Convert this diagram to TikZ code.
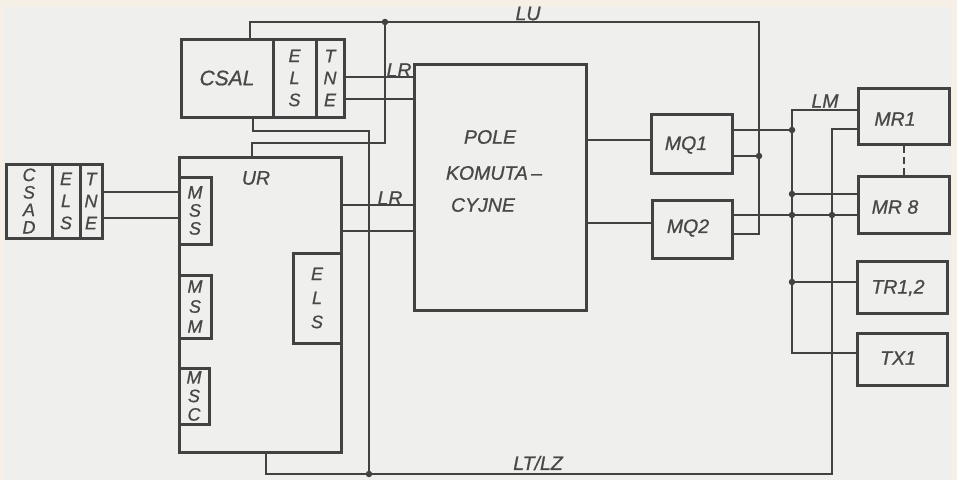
\documentclass[tikz,border=0pt]{standalone}
\usepackage{fontspec}
\setmainfont{Liberation Sans}[ItalicFeatures={FakeBold=0.8}]
\definecolor{bg}{RGB}{239,239,237}
\definecolor{edgec}{RGB}{246,239,229}
\definecolor{ink}{RGB}{66,66,66}
\definecolor{txt}{RGB}{72,72,72}
\newcommand\lblfont{\fontsize{19.5}{22}\selectfont\itshape}
\tikzset{
  sz/.style 2 args={minimum width=#1, minimum height=#2},
  box/.style={draw=ink, line width=3pt, inner sep=0pt, text=txt, font=\lblfont},
  stk/.style={align=center, font=\fontsize{18}{#1}\selectfont\itshape},
  wire/.style={draw=ink, line width=2pt},
  junc/.style={circle, fill=ink, inner sep=0pt, minimum size=6.5pt},
  lab/.style={text=txt, font=\lblfont, inner sep=0pt}
}
\begin{document}
\begin{tikzpicture}[x=1pt,y=-1pt]
\fill[bg] (0,0) rectangle (957,480);
\fill[edgec] (0,0) rectangle (957,7);
\fill[edgec] (951,0) rectangle (957,480);
\fill[edgec] (0,0) rectangle (4,480);
\useasboundingbox (0,0) rectangle (957,480);

% boxes
\node[box,sz={92}{78},font=\fontsize{21}{24}\selectfont\itshape] (csal) at (227,78) {CSAL};
\node[box,sz={43}{78},stk=22] (els1) at (294.5,78) {E\\L\\S};
\node[box,sz={28}{78},stk=22] (tne1) at (330,78) {T\\N\\E};
\node[box,sz={46}{74},stk=17.5] (csad) at (29,201) {C\\S\\A\\D};
\node[box,sz={28}{74},stk=22] (els2) at (66,201) {E\\L\\S};
\node[box,sz={22}{74},stk=22] (tne2) at (91,201) {T\\N\\E};
\node[box,sz={162}{295}] (ur) at (260,304.5) {};
\node[lab] (urlab) at (256,178) {UR};
\node[box,sz={32}{67},stk=18] (mss) at (195,210.5) {M\\S\\S};
\node[box,sz={32}{63},stk=20] (msm) at (195,306.5) {M\\S\\M};
\node[box,sz={30}{56},stk=18.5] (msc) at (194,396) {M\\S\\C};
\node[box,sz={48}{90},stk=24] (els3) at (317,298) {E\\L\\S};
\node[box,sz={172}{246}] (pole) at (500,187) {};
\node[lab] (p1) at (490,137) {POLE};
\node[lab] (p2) at (494,173) {KOMUTA\,--};
\node[lab] (p3) at (483,205) {CYJNE};
\node[box,sz={81}{59}] (mq1) at (691.5,143.5) {};
\node[lab] (mq1t) at (686,145) {MQ1};
\node[box,sz={80}{58}] (mq2) at (692,229) {};
\node[lab] (mq2t) at (688,228) {MQ2};
\node[box,sz={91}{56}] (mr1) at (903.5,116) {};
\node[lab] (mr1t) at (895,119) {MR1};
\node[box,sz={91}{57}] (mr8) at (903.5,204.5) {};
\node[lab] (mr8t) at (895,207) {MR 8};
\node[box,sz={90}{52}] (tr) at (902,287) {};
\node[lab] (trt) at (898,288) {TR1,2};
\node[box,sz={90}{52}] (tx) at (902,359) {};
\node[lab] (txt) at (898,358) {TX1};

% junctions
\node[junc] (jLU) at (385,22) {};
\node[junc] (jQ1a) at (759,156) {};
\node[junc] (jQ1b) at (792,130) {};
\node[junc] (jM8) at (792,194) {};
\node[junc] (jQ2a) at (792,215) {};
\node[junc] (jQ2b) at (832,215) {};
\node[junc] (jTR) at (792,282) {};
\node[junc] (jB) at (369,474) {};

% wires
\draw[wire] (csal.north -| 250,0) -- (250,22) -- (jLU) -- (759,22) -- (759,234) -- (mq2.east |- 0,234);
\draw[wire] (jLU) -- (385,143) -- (252,143) -- (ur.north -| 252,0);
\draw[wire] (csal.south -| 253,0) -- (253,131) -- (369,131) -- (jB);
\draw[wire] (ur.south -| 266,0) -- (266,474) -- (jB) -- (832,474) -- (832,129) -- (mr1.west |- 0,129);
\draw[wire] (mq1.east |- 0,156) -- (jQ1a);
\draw[wire] (mq1.east |- 0,130) -- (jQ1b);
\draw[wire] (mq2.east |- 0,215) -- (jQ2a) -- (jQ2b) -- (mr8.west |- 0,215);
\draw[wire] (mr1.west |- 0,110) -- (792,110) -- (792,353) -- (tx.west |- 0,353);
\draw[wire] (jM8) -- (mr8.west |- 0,194);
\draw[wire] (jTR) -- (tr.west |- 0,282);
\draw[wire] (pole.east |- 0,140) -- (mq1.west |- 0,140);
\draw[wire] (pole.east |- 0,223) -- (mq2.west |- 0,223);
\draw[wire] (tne1.east |- 0,77) -- (pole.west |- 0,77);
\draw[wire] (tne1.east |- 0,99) -- (pole.west |- 0,99);
\draw[wire] (ur.east |- 0,205) -- (pole.west |- 0,205);
\draw[wire] (ur.east |- 0,231) -- (pole.west |- 0,231);
\draw[wire] (tne2.east |- 0,192) -- (mss.west |- 0,192);
\draw[wire] (tne2.east |- 0,218) -- (mss.west |- 0,218);
\draw[wire,dash pattern=on 7pt off 4pt] (mr1.south -| 904,0) -- (mr8.north -| 904,0);

% line labels
\node[lab] (lu) at (528,13.5) {LU};
\node[lab] (lr1) at (399,70) {LR};
\node[lab] (lr2) at (390,198) {LR};
\node[lab] (lm) at (825,101) {LM};
\node[lab] (ltlz) at (538,463) {LT/LZ};
\end{tikzpicture}
\end{document}
